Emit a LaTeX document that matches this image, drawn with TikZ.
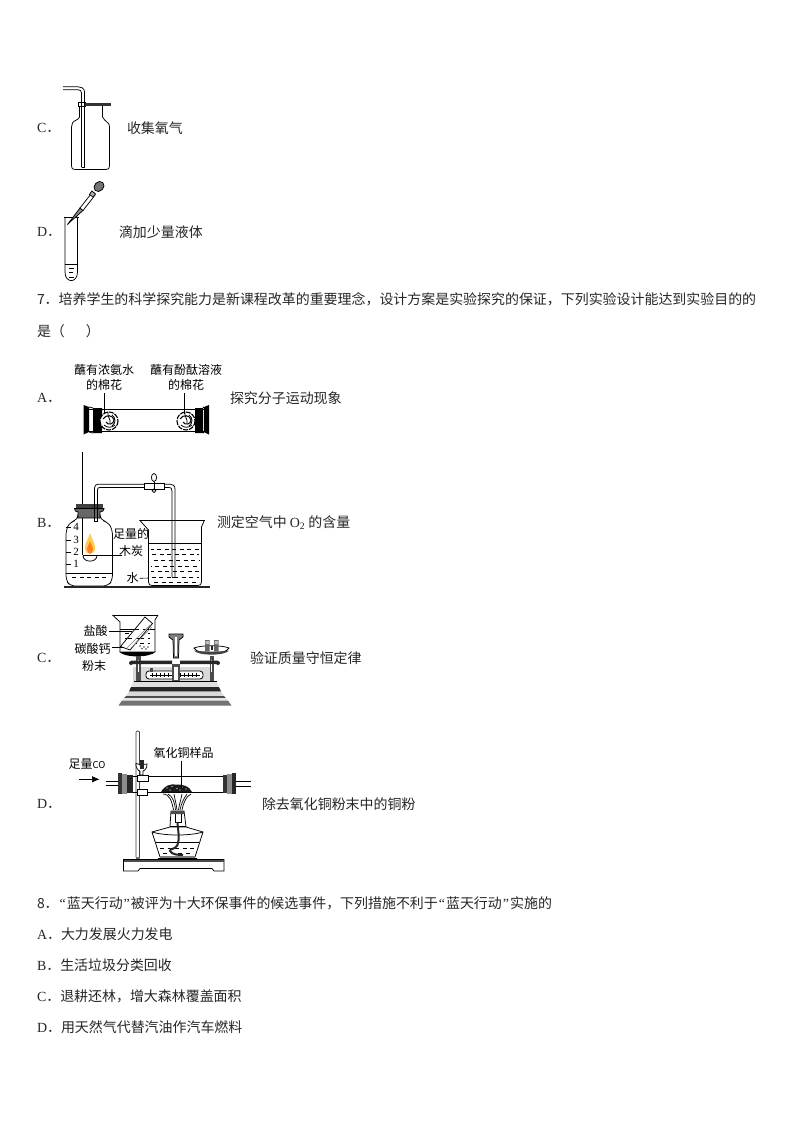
\documentclass[tikz,border=0pt]{standalone}
\usepackage{fontspec}
\setmainfont{Noto Sans CJK SC}
\newfontfamily\latinf{Liberation Serif}
\usetikzlibrary{arrows.meta}
\newcommand{\lat}[1]{{\latinf #1}}
\newcommand{\qq}[1]{\makebox[0.59em]{\latinf #1}}
\begin{document}
\begin{tikzpicture}[x=1pt,y=-1pt,line width=0.75pt,
  txt/.style={anchor=west,inner sep=0pt,outer sep=0pt,font=\fontsize{13.95pt}{13.95pt}\selectfont,text=black!85},
  lab/.style={anchor=center,inner sep=0pt,outer sep=0pt,font=\fontsize{12pt}{12pt}\selectfont,text=black},
  thin line/.style={line width=0.6pt},
  wash/.style={dash pattern=on 4pt off 3.5pt,line width=0.6pt}]
\useasboundingbox[fill=white] (0,0) rectangle (794,1123);

% ------- texts -------
\node[txt] (c1) at (37,128) {\lat{C}．};
\node[txt] (c2) at (127,128) {收集氧气};
\node[txt] (d1) at (37,232) {\lat{D}．};
\node[txt] (d2) at (119,232) {滴加少量液体};
\node[txt] (q7) at (37,299) {7．培养学生的科学探究能力是新课程改革的重要理念，设计方案是实验探究的保证，下列实验设计能达到实验目的的};
\node[txt] (q7b) at (37,331) {是（\hspace{1.5em}）};
\node[txt] (a1) at (37,398) {\lat{A}．};
\node[txt] (a2) at (230,398) {探究分子运动现象};
\node[txt] (b1) at (37,523) {\lat{B}．};
\node[txt] (b2) at (217,523) {测定空气中 \lat{O\textsubscript{2}} 的含量};
\node[txt] (c3) at (37,658) {\lat{C}．};
\node[txt] (c4) at (250,658) {验证质量守恒定律};
\node[txt] (d3) at (37,804) {\lat{D}．};
\node[txt] (d4) at (262,804) {除去氧化铜粉末中的铜粉};
\node[txt] (q8) at (37,903) {8．\qq{“}蓝天行动\qq{”}被评为十大环保事件的候选事件，下列措施不利于\qq{“}蓝天行动\qq{”}实施的};
\node[txt] (o1) at (37,934) {\lat{A}．大力发展火力发电};
\node[txt] (o2) at (37,965) {\lat{B}．生活垃圾分类回收};
\node[txt] (o3) at (37,996) {\lat{C}．退耕还林，增大森林覆盖面积};
\node[txt] (o4) at (37,1027) {\lat{D}．用天然气代替汽油作汽车燃料};

% ------- gas bottle (C, top) -------
\draw (79.5,105) -- (79.5,117) .. controls (79,120) and (74,120) .. (72.5,123) .. controls (71.5,124.5) and (71.5,125) .. (71.5,127) -- (71.5,166) .. controls (71.5,168.5) and (72.5,169.5) .. (75,169.5) -- (106,169.5) .. controls (108.5,169.5) and (109.5,168.5) .. (109.5,166) -- (109.5,127) .. controls (109.5,125) and (109,124) .. (108,123) .. controls (106,120) and (103,120) .. (102.5,117) -- (102.5,106);
\draw[fill=white] (78,102.8) rectangle (85,106);
\draw[line width=3.6pt,black!80] (85,104.5) -- (111,104.5);
\draw (81.5,167.5) -- (81.5,93) .. controls (81.5,90.5) and (80,89.8) .. (78,89.8) -- (63,89.8);
\draw (84.5,167.5) -- (84.5,92) .. controls (84.5,88) and (81,86.8) .. (78,86.8) -- (63,86.8);
\draw (81.5,167.5) -- (84.5,167.5);

% ------- test tube and dropper (D, top) -------
\draw (65,217) -- (65,272) .. controls (65,283.5) and (77.5,283.5) .. (77.5,272) -- (77.5,217);
\draw (64,217) -- (78.5,217);
\draw[thin line] (65,264) -- (77.5,264);
\draw[thin line] (69,268) -- (74,268) (69,272) -- (73,272) (69,277) -- (74,277);
\draw[fill=black!45] (67.5,224.5) -- (80,208) -- (83,210.5) -- (70,222) -- cycle;
\draw[fill=white] (80,208) -- (91,194) -- (94,196.5) -- (83,210.5) -- cycle;
\fill[black!35] (90,192.5) -- (94.5,192.5) -- (95.5,196) -- (92.5,197.5) -- cycle;
\draw[fill=black!55,rotate around={45:(99,186.5)}] (99,186.5) ellipse (5.5pt and 4.5pt);
\draw[fill=black!30] (92,191) -- (95.5,194) -- (93,197) -- (89.5,194.5) -- cycle;

% ------- A apparatus -------
\draw (85,409.5) -- (205,409.5) (85,431) -- (205,431);
\fill[black] (93,408) rectangle (102,433) (195,408) rectangle (203,433);
\fill[black] (83.5,405) -- (89,407) -- (89,432) -- (83.5,434.5) -- cycle;
\fill[black] (209,405) -- (204,407) -- (204,432) -- (209,434.5) -- cycle;
\draw (89,407) -- (93,408) (89,432) -- (93,433) (204,407) -- (203,408) (204,432) -- (203,433);
\foreach \cx/\cy/\cn in {109/421/ca,186/421/cb}{
  \coordinate (\cn) at (\cx,\cy-9);
  \draw[fill=white,line width=1.1pt,dash pattern=on 5pt off 1pt] (\cx,\cy) circle (9);
  \draw[line width=1pt] (\cx-6,\cy-2) .. controls (\cx-3,\cy-7) and (\cx+4,\cy-6) .. (\cx+5,\cy-1) .. controls (\cx+5,\cy+3) and (\cx-1,\cy+5) .. (\cx-3,\cy+1);
  \draw[line width=0.8pt] (\cx-1,\cy-9) .. controls (\cx-2,\cy-4) and (\cx+2,\cy-2) .. (\cx+1,\cy+2);
  \draw[line width=0.8pt] (\cx-5,\cy+4) .. controls (\cx-2,\cy+7) and (\cx+3,\cy+7) .. (\cx+6,\cy+4);
  \draw[line width=0.8pt] (\cx+3,\cy-6) .. controls (\cx+7,\cy-3) and (\cx+7,\cy+2) .. (\cx+3,\cy+5);
}
\node[lab] (la1) at (104,370) {蘸有浓氨水};
\node[lab] (la2) at (104,385) {的棉花};
\node[lab] (lb1) at (186,370) {蘸有酚酞溶液};
\node[lab] (lb2) at (186,385) {的棉花};
\coordinate (la3) at (104,393); \coordinate (la4) at (104,414);
\coordinate (lb3) at (184.5,393); \coordinate (lb4) at (184.5,414);
\draw[thin line] (la3) -- (la4);
\draw[thin line] (lb3) -- (lb4);

% ------- B apparatus -------
\draw[thin line] (82.5,452) -- (82.5,555);
\draw[rounded corners=5pt] (78,518) -- (78,520) -- (70,522) -- (66,530) -- (66,580) -- (70,586) -- (108,586) -- (112.5,580) -- (112.5,530) -- (108,522) -- (100,520) -- (100,518);
\draw[line width=1.6pt,black!85] (63.5,587) -- (210,587);
\fill[black!75] (76,503.5) rectangle (103,508.5);
\draw[fill=black!60] (74.5,508.5) -- (104,508.5) -- (103,511) -- (100,512) -- (100,518) -- (78,518) -- (78,512) -- (75.5,511) -- cycle;
\draw (94.5,518) -- (94.5,521.5) -- (97.5,521.5) -- (97.5,518);
\draw[thin line] (66,573.5) -- (112.5,573.5);
\draw[wash] (72,577.5) -- (108,577.5);
\foreach \yy/\t in {527/4,540/3,552/2,564/1}{
  \node[anchor=center,inner sep=0pt,font=\fontsize{11pt}{11pt}\latinf] (sc\t) at (76,\yy) {\t};
  \draw[thin line] (66,\yy) -- (71,\yy);
}
\fill[orange!55!yellow!70] (90,533) .. controls (92,540) and (95,542) .. (95,548) .. controls (95,552) and (92,554) .. (90,554) .. controls (88,554) and (85,552) .. (85,548) .. controls (85,542) and (88,540) .. (90,533) -- cycle;
\fill[orange!80!red!85] (90,541) .. controls (91,545) and (93,546) .. (93,549) .. controls (93,552) and (91,553.5) .. (90,553.5) .. controls (89,553.5) and (87,552) .. (87,549) .. controls (87,546) and (89,545) .. (90,541) -- cycle;
\draw (83,555.5) .. controls (83,563) and (97,563) .. (97,555.5);
\node[lab] (lc1) at (131,534) {足量的};
\node[lab] (lc2) at (131,551) {木炭};
\coordinate (lc3) at (122,555.5); \coordinate (lc4) at (82.5,555.5);
\draw[thin line] (lc4) -- (lc3);
% connecting tube
\draw (94.5,518) -- (94.5,488) .. controls (94.5,485.5) and (96,484.2) .. (98,484.2) -- (144.3,484.2);
\draw (97.5,518) -- (97.5,490) .. controls (97.5,488) and (98,487.5) .. (100,487.5) -- (144.3,487.5);
\draw (164,484.2) -- (170,484.2) .. controls (173,484.2) and (175,485.5) .. (175,489) -- (175,577);
\draw (164,487.5) -- (169,487.5) .. controls (171,487.5) and (172,488) .. (172,491) -- (172,577);
\draw (172,577) -- (175,577);
% beaker
\draw (139.5,520) -- (204.5,520);
\draw (139.5,520) -- (148.5,530) -- (148.5,582) .. controls (148.5,584.5) and (150,585.5) .. (152,585.5) -- (198,585.5) .. controls (200,585.5) and (201.5,584.5) .. (201.5,582) -- (201.5,527) -- (204.5,520);
\draw[thin line] (148.5,543.5) -- (201.5,543.5);
\foreach \yy in {549,554,560,566,571,577,582}{ \draw[wash,dash phase=\yy*1pt] (151,\yy) -- (199,\yy); }
% clamp
\draw[fill=white] (144.3,483.5) rectangle (164.3,489.3);
\draw[fill=white] (154,477.5) ellipse (2.6pt and 4pt);
\draw (154,481.5) -- (154,489);
\draw[fill=white] (154,490.8) circle (1.8);
\node[lab] (lw) at (132.7,578.3) {水};
\coordinate (lw2) at (148.5,578);
\draw[thin line] (lw.east) ++(1,0) -- (lw2);

% ------- C apparatus (balance) -------
\draw (112.5,615) -- (158,615);
\draw (112.5,615) -- (120,622) -- (120,652);
\draw (158,615) -- (155,620) -- (155,652);
\draw[thin line] (120,629) -- (155,629);
\draw[wash] (125,633) -- (150,633);
\draw[wash] (125,638) -- (150,638);
\draw[wash] (125,643) -- (150,643);
\draw[fill=white] (120.5,646.5) -- (145,617) -- (152.5,623.5) -- (130,650) -- cycle;
\draw[wash] (135,629) -- (146,629) (128,638) -- (141,638);
\draw[black!50,thin line] (127,648) -- (150,625) (131,648) -- (152,627);
\fill[black!70] (140,646) circle (0.8) (144,647) circle (0.8) (148,647) circle (0.8) (142,648.5) circle (0.8) (146,649) circle (0.8);
\fill[black] (119,651.5) .. controls (124,658) and (150,658) .. (156,651.5) -- cycle;
\fill[black!15] (133,667) rectangle (210,685);
\fill[black!70] (136,656) rectangle (140.5,684);
\fill[white] (137.5,660) rectangle (139,672);
% right pan
\draw[fill=white] (194,648) .. controls (198,655.5) and (225,655.5) .. (229,648) .. controls (222,645) and (201,645) .. (194,648) -- cycle;
\fill[black!75] (194,650.5) .. controls (205,652) and (218,652) .. (229,650.5) .. controls (225,656) and (198,656) .. (194,650.5) -- cycle;
\fill[black!60] (205,640) rectangle (209.5,651.5) (214,640) rectangle (218.5,651.5);
\fill[black!25] (205.5,641) rectangle (209,644) (214.5,641) rectangle (218,644);
\fill[black!85] (211,646) rectangle (212.5,650);
\fill[black!70] (209.5,656) rectangle (213.5,684);
\fill[white] (211,660) rectangle (212.3,672);
% beam and pillar
\draw[fill=black!50] (169,634) -- (183,634) -- (183,637) -- (179,640) -- (178.5,658) -- (173.5,658) -- (173,640) -- (169,637) -- cycle;
\fill[white] (174.8,637) rectangle (177,656);
\fill[black!85] (131,660.5) rectangle (172,664) (180,660.5) rectangle (218,664);
\fill[black!85] (131,663) circle (2) (218,663) circle (2);
\draw[fill=white,rounded corners=3pt] (146,671) rectangle (203,679);
\draw[thin line] (150,675) -- (200,675);
\foreach \tx in {152,156,...,198}{ \draw[line width=0.5pt] (\tx,673) -- (\tx,677); }
\fill[black!70] (150,668) rectangle (153,672);
\fill[black!70] (172,664) rectangle (180,685);
\fill[white] (174,667) rectangle (178,680);
% base
\fill[black!12] (133.5,681) -- (216.5,681) -- (219,687) -- (131,687) -- cycle;
\draw[thin line] (133.5,681) -- (216.5,681);
\fill[black!85] (131,687) -- (219,687) -- (221,691.5) -- (129,691.5) -- cycle;
\fill[black!15] (129,691.5) -- (221,691.5) -- (224,696) -- (126,696) -- cycle;
\fill[black!70] (126,696) -- (224,696) -- (226,698) -- (124,698) -- cycle;
\fill[black!10] (124,698) -- (226,698) -- (228,700.5) -- (122,700.5) -- cycle;
\fill[black!55] (122,700.5) -- (228,700.5) -- (231.5,705.5) -- (118.5,705.5) -- cycle;
\node[lab] (ld1) at (95.5,631) {盐酸};
\node[lab] (ld2) at (92.5,649) {碳酸钙};
\node[lab] (ld3) at (94,665.7) {粉末};
\coordinate (ld1b) at (131.5,631); \coordinate (ld2b) at (123.5,647.5);
\draw[thin line] (ld1.east) ++(1,0) -- (ld1b);
\draw[thin line] (ld2.east) ++(1,-1.5) -- (ld2b);

% ------- D apparatus -------
\draw[black!75] (136,732) -- (136,857) (139.5,857) -- (139.5,732) .. controls (139.5,730.5) and (136,730.5) .. (136,732);
\fill[black!55] (135.5,857) rectangle (140,859.5);
\draw[fill=white] (123.5,859.5) -- (224,859.5) -- (224,871) -- (214,871) -- (212,868.5) -- (140,868.5) -- (138,871) -- (123.5,871) -- cycle;
\fill[black!70] (123.5,859.5) rectangle (224,861.5);
% tube
\draw (125,776.7) -- (225,776.7) (125,792.5) -- (225,792.5);
\draw (106,781) -- (118,781) (106,785.7) -- (118,785.7);
\draw (236,781) -- (250.5,781) (236,786) -- (250.5,786);
\fill[black!80] (118,773) rectangle (122,794);
\fill[black!45] (122,774) rectangle (127,793.5);
\fill[black!85] (127,775) rectangle (133,793);
\fill[black!80] (222.5,775) rectangle (227,793);
\fill[black!45] (227,774) rectangle (232,793.5);
\fill[black!85] (232,773) rectangle (235.7,794);
% clamps
\draw[fill=white] (137,775.2) rectangle (148,781);
\draw[fill=white] (137,789.5) rectangle (147.3,795.5);
\draw[fill=white] (136,763.5) .. controls (139,763) and (140,765) .. (141.5,767) .. controls (143,765) and (145,763) .. (147,764) .. controls (147.5,768) and (144,771) .. (143,771) -- (143,775) -- (140,775) -- (140,771) .. controls (138,771) and (135.5,767) .. (136,763.5) -- cycle;
\fill[black!85] (140,760) rectangle (143.5,769);
% sample
\fill[black!90] (161,792) .. controls (165,785) and (170,784) .. (176,784.5) .. controls (184,784.5) and (189,786) .. (192,792) -- cycle;
\fill[white] (167,788) circle (0.7) (172,786.5) circle (0.7) (177,788.5) circle (0.7) (182,787) circle (0.7) (186,789) circle (0.7) (170,790) circle (0.7) (180,790) circle (0.7);
% flame lines
\draw[line width=0.7pt] (163,794) .. controls (170,794) and (172,802) .. (173.5,810);
\draw[line width=0.7pt] (168,794) .. controls (173,796) and (175,804) .. (175.5,810);
\draw[line width=0.7pt] (174,794) .. controls (175,800) and (176.5,805) .. (177,810);
\draw[line width=0.7pt] (182,794) .. controls (181,800) and (179,805) .. (178.5,810);
\draw[line width=0.7pt] (187,794) .. controls (184,798) and (181,804) .. (180,810);
\draw[line width=0.7pt] (191,794) .. controls (186,796) and (183,804) .. (182,810);
% lamp
\draw[fill=white] (171,811) -- (184,811) -- (186,826.5) -- (170,826.5) -- cycle;
\fill[black!70] (171,811) -- (184,811) -- (184.5,814) -- (170.5,814) -- cycle;
\draw (175,814) -- (175,822) -- (181,822) -- (181,814);
\draw[fill=white] (152,832) -- (170,827) -- (186,827) -- (203,832) -- (195,857) -- (160,857) -- cycle;
\draw (152,832) .. controls (165,836) and (190,836) .. (203,832);
\draw[thin line] (156,842) -- (199,842);
\draw[wash] (160,848) -- (195,848);
\draw[wash] (163,853) -- (192,853);
\draw[line width=2pt,black!85] (177.5,822) .. controls (178,832) and (180,838) .. (177.5,845) .. controls (175,850) and (170,848) .. (170,851) .. controls (172,855) and (180,855) .. (183,855);
\fill[black!50] (160,855.5) rectangle (195,858.5);
\draw (158,858.5) -- (197,858.5);
% D labels
\node[txt,font=\fontsize{12pt}{12pt}\selectfont,text=black] (le1) at (68.5,764) {足量\fontsize{9.5pt}{9.5pt}\selectfont CO};
\coordinate (ar1) at (78.5,779.3); \coordinate (ar2) at (99.5,779.3);
\draw[-{Latex[length=7.5pt,width=6.5pt]},thin line] (ar1) -- (ar2);
\node[lab] (le2) at (183.5,753.3) {氧化铜样品};
\coordinate (le3) at (181,760.5); \coordinate (le4) at (181,788);
\draw[thin line] (le3) -- (le4);
\end{tikzpicture}
\end{document}
